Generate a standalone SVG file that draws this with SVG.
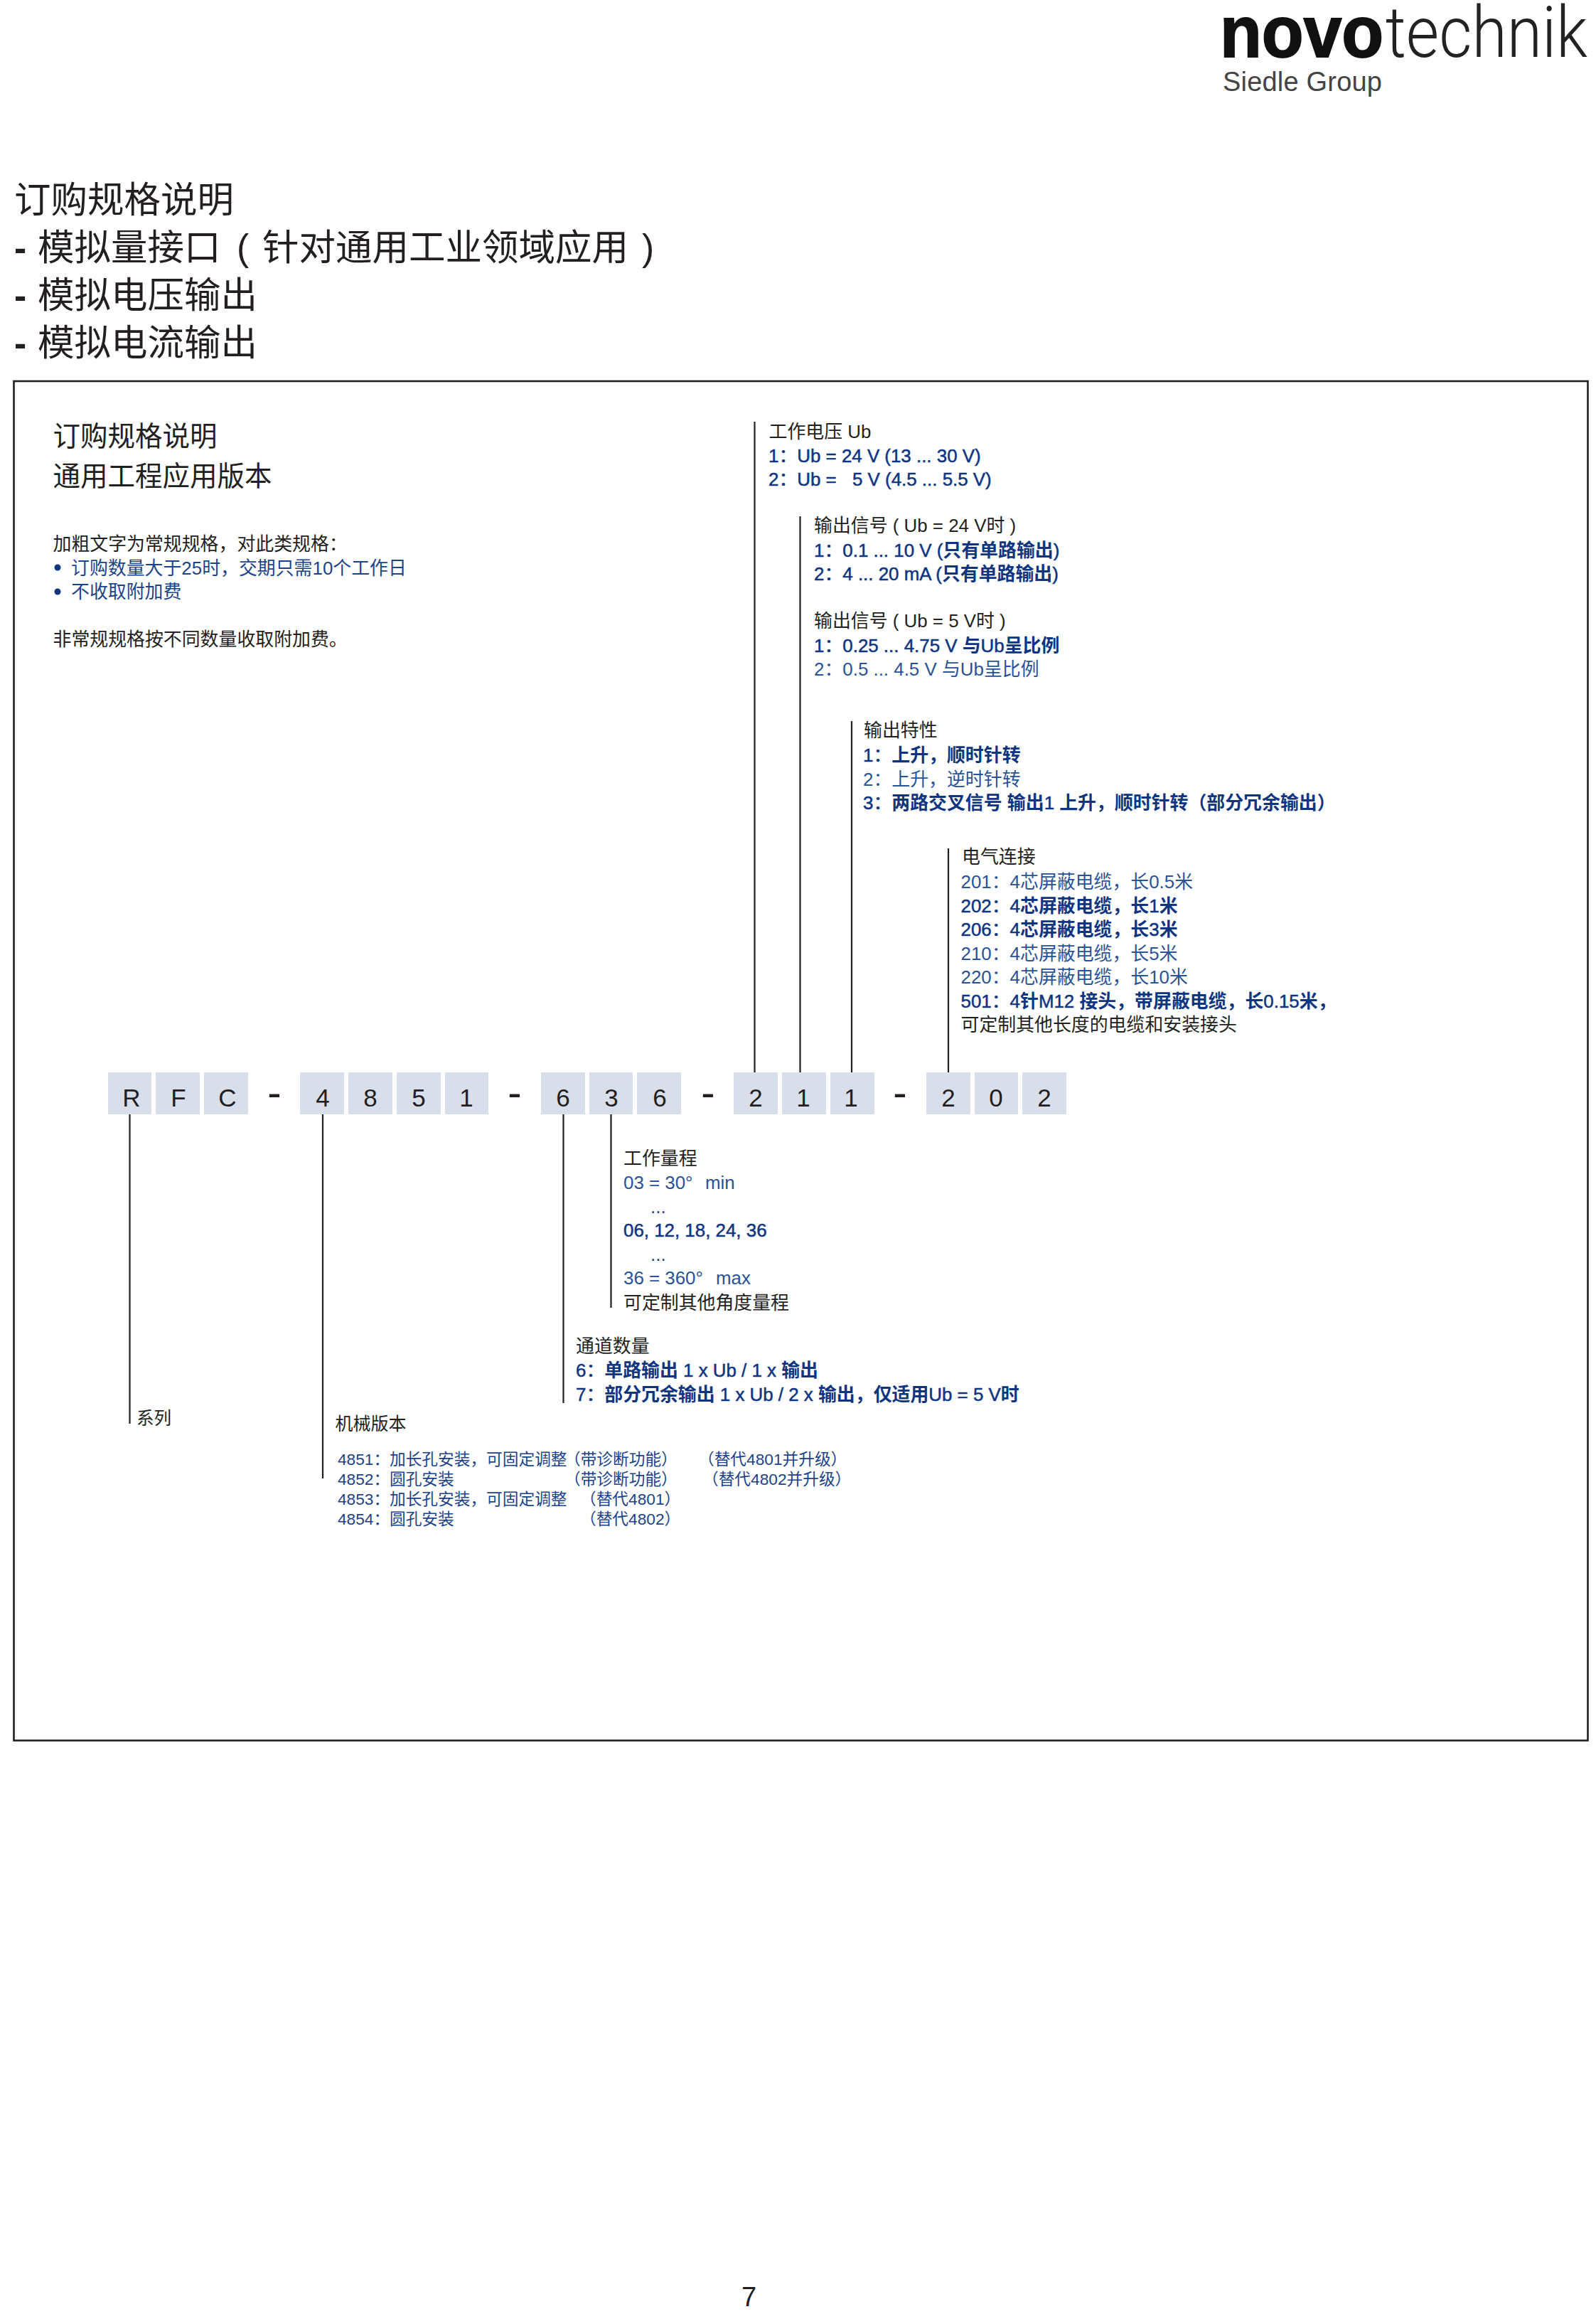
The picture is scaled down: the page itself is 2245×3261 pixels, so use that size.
<svg xmlns="http://www.w3.org/2000/svg" width="2245" height="3261" viewBox="0 0 2245 3261">
<style>
text{font-family:"Liberation Sans","Noto Sans CJK SC",sans-serif;fill:#231f20;font-size:25.9px}
.h1{font-size:51.5px}
.hy{font-weight:700}
.h2{font-size:38.5px}
.b{fill:#2a5296}
.c{fill:#1c4389}
.med{fill:#0f3480;stroke:#0f3480;stroke-width:.5}
.k{font-weight:700;stroke:none}
.m{font-size:22.7px;fill:#1c4389}
.box{fill:#d9deeb}
.d{font-size:35px;text-anchor:middle}
.dash{font-size:58px;text-anchor:middle}
.ln{stroke:#231f20;stroke-width:2.2;fill:none}
</style>
<rect width="2245" height="3261" fill="#fff"/>
<g id="logo">
<text x="1716" y="80" style="font-size:102px;font-weight:700;fill:#111;stroke:#111;stroke-width:2" textLength="230" lengthAdjust="spacingAndGlyphs">novo</text>
<text x="1949" y="80" style="font-size:100px;font-weight:300;font-family:'Roboto','Liberation Sans',sans-serif;fill:#222" textLength="284" lengthAdjust="spacingAndGlyphs">technik</text>
<text x="1720" y="128" style="font-size:38px;fill:#444" textLength="224">Siedle Group</text>
</g>
<g id="page-title">
<text class="h1" x="20" y="299">订购规格说明</text>
<text class="h1" x="20" y="366"><tspan class="hy">-</tspan><tspan x="53">模拟量接口</tspan><tspan x="333">(</tspan><tspan x="369">针对通用工业领域应用</tspan><tspan x="903">)</tspan></text>
<text class="h1" x="20" y="433"><tspan class="hy">-</tspan><tspan x="53">模拟电压输出</tspan></text>
<text class="h1" x="20" y="500"><tspan class="hy">-</tspan><tspan x="53">模拟电流输出</tspan></text>
</g>
<rect id="frame" x="19.5" y="536" width="2214" height="1911.5" fill="none" stroke="#231f20" stroke-width="2.6"/>
<g id="intro">
<text class="h2" x="74.5" y="627">订购规格说明</text>
<text class="h2" x="74.5" y="683">通用工程应用版本</text>
<text x="74.5" y="774">加粗文字为常规规格，对此类规格：</text>
<circle cx="81" cy="798" r="4.5" fill="#0f3480"/>
<text class="c" x="100" y="808">订购数量大于25时，交期只需10个工作日</text>
<circle cx="81" cy="832" r="4.5" fill="#0f3480"/>
<text class="c" x="100" y="841">不收取附加费</text>
<text x="74.5" y="908">非常规规格按不同数量收取附加费。</text>
</g>
<g id="connectors">
<path class="ln" d="M1061.5 593V1508M1125.5 726V1508M1198 1014V1508M1334 1193V1508"/>
<path class="ln" d="M182.5 1567V2002M454 1567V2079M792.5 1567V1973M859.5 1567V1839"/>
</g>
<g id="code">
<g id="code-rfc">
<rect class="box" x="152" y="1508" width="61" height="59"/><text class="d" x="185" y="1556">R</text>
<rect class="box" x="219" y="1508" width="62" height="59"/><text class="d" x="251" y="1556">F</text>
<rect class="box" x="287" y="1508" width="62" height="59"/><text class="d" x="320" y="1556">C</text>
</g>
<text class="dash" x="386" y="1556">-</text>
<g id="code-4851">
<rect class="box" x="422" y="1508" width="62" height="59"/><text class="d" x="454" y="1556">4</text>
<rect class="box" x="490" y="1508" width="62" height="59"/><text class="d" x="521" y="1556">8</text>
<rect class="box" x="558" y="1508" width="62" height="59"/><text class="d" x="589" y="1556">5</text>
<rect class="box" x="626" y="1508" width="61" height="59"/><text class="d" x="656" y="1556">1</text>
</g>
<text class="dash" x="724" y="1556">-</text>
<g id="code-636">
<rect class="box" x="761" y="1508" width="62" height="59"/><text class="d" x="792" y="1556">6</text>
<rect class="box" x="829" y="1508" width="61" height="59"/><text class="d" x="860" y="1556">3</text>
<rect class="box" x="896" y="1508" width="62" height="59"/><text class="d" x="928" y="1556">6</text>
</g>
<text class="dash" x="996" y="1556">-</text>
<g id="code-211">
<rect class="box" x="1032" y="1508" width="62" height="59"/><text class="d" x="1063" y="1556">2</text>
<rect class="box" x="1100" y="1508" width="62" height="59"/><text class="d" x="1130" y="1556">1</text>
<rect class="box" x="1168" y="1508" width="62" height="59"/><text class="d" x="1197" y="1556">1</text>
</g>
<text class="dash" x="1266" y="1556">-</text>
<g id="code-202">
<rect class="box" x="1303" y="1508" width="62" height="59"/><text class="d" x="1334" y="1556">2</text>
<rect class="box" x="1371" y="1508" width="61" height="59"/><text class="d" x="1401" y="1556">0</text>
<rect class="box" x="1438" y="1508" width="62" height="59"/><text class="d" x="1469" y="1556">2</text>
</g>
</g>
<g id="voltage">
<text x="1081.5" y="616">工作电压 Ub</text>
<text class="med" x="1081" y="650">1：Ub = 24 V (13 ... 30 V)</text>
<text class="med" x="1081" y="683">2：Ub = <tspan x="1199">5 V (4.5 ... 5.5 V)</tspan></text>
</g>
<g id="signal">
<text x="1145" y="748">输出信号 ( Ub = 24 V时 )</text>
<text class="med" x="1145" y="782.5">1：0.1 ... 10 V (<tspan class="k">只有单路输出</tspan>)</text>
<text class="med" x="1145" y="816">2：4 ... 20 mA (<tspan class="k">只有单路输出</tspan>)</text>
<text x="1145" y="882">输出信号 ( Ub = 5 V时 )</text>
<text class="med" x="1145" y="917">1：0.25 ... 4.75 V <tspan class="k">与</tspan>Ub<tspan class="k">呈比例</tspan></text>
<text class="b" x="1145" y="950">2：0.5 ... 4.5 V 与Ub呈比例</text>
</g>
<g id="characteristic">
<text x="1215" y="1035.5">输出特性</text>
<text class="med" x="1214" y="1071">1：<tspan class="k">上升，顺时针转</tspan></text>
<text class="b" x="1214" y="1104.5">2：上升，逆时针转</text>
<text class="med" x="1214" y="1138">3：<tspan class="k">两路交叉信号 输出</tspan>1 <tspan class="k">上升，顺时针转（部分冗余输出）</tspan></text>
</g>
<g id="connection">
<text x="1353" y="1214">电气连接</text>
<text class="b" x="1351.5" y="1249">201：4芯屏蔽电缆，长0.5米</text>
<text class="med" x="1351.5" y="1282.5">202：4<tspan class="k">芯屏蔽电缆，长</tspan>1<tspan class="k">米</tspan></text>
<text class="med" x="1351.5" y="1316">206：4<tspan class="k">芯屏蔽电缆，长</tspan>3<tspan class="k">米</tspan></text>
<text class="b" x="1351.5" y="1349.5">210：4芯屏蔽电缆，长5米</text>
<text class="b" x="1351.5" y="1383">220：4芯屏蔽电缆，长10米</text>
<text class="med" x="1351.5" y="1416.5">501：4<tspan class="k">针</tspan>M12 <tspan class="k">接头，带屏蔽电缆，长</tspan>0.15<tspan class="k">米，</tspan></text>
<text x="1351.5" y="1450">可定制其他长度的电缆和安装接头</text>
</g>
<g id="range">
<text x="877" y="1638">工作量程</text>
<text class="b" x="877" y="1672">03 = 30° <tspan x="992">min</tspan></text>
<text class="c" x="915" y="1706">...</text>
<text class="med" x="877" y="1739">06, 12, 18, 24, 36</text>
<text class="c" x="915" y="1773">...</text>
<text class="b" x="877" y="1806">36 = 360° <tspan x="1007">max</tspan></text>
<text x="877" y="1841">可定制其他角度量程</text>
</g>
<g id="channels">
<text x="810" y="1902">通道数量</text>
<text class="med" x="810" y="1936">6：<tspan class="k">单路输出</tspan> 1 x Ub / 1 x <tspan class="k">输出</tspan></text>
<text class="med" x="810" y="1970">7：<tspan class="k">部分冗余输出</tspan> 1 x Ub / 2 x <tspan class="k">输出，仅适用</tspan>Ub = 5 V<tspan class="k">时</tspan></text>
</g>
<g id="series"><text x="192" y="2003" style="font-size:24.5px">系列</text></g>
<g id="mechanical">
<text x="471.5" y="2011" style="font-size:25px">机械版本</text>
<text class="m" x="475" y="2060">4851：<tspan x="548">加长孔安装，可固定调整</tspan><tspan x="794">（带诊断功能）</tspan><tspan x="982">（替代4801并升级）</tspan></text>
<text class="m" x="475" y="2088">4852：<tspan x="548">圆孔安装</tspan><tspan x="794">（带诊断功能）</tspan><tspan x="988">（替代4802并升级）</tspan></text>
<text class="m" x="475" y="2116">4853：<tspan x="548">加长孔安装，可固定调整</tspan><tspan x="816">（替代4801）</tspan></text>
<text class="m" x="475" y="2144">4854：<tspan x="548">圆孔安装</tspan><tspan x="816">（替代4802）</tspan></text>
</g>
<g id="page-number"><text x="1043" y="3243" style="font-size:38px">7</text></g>
</svg>
